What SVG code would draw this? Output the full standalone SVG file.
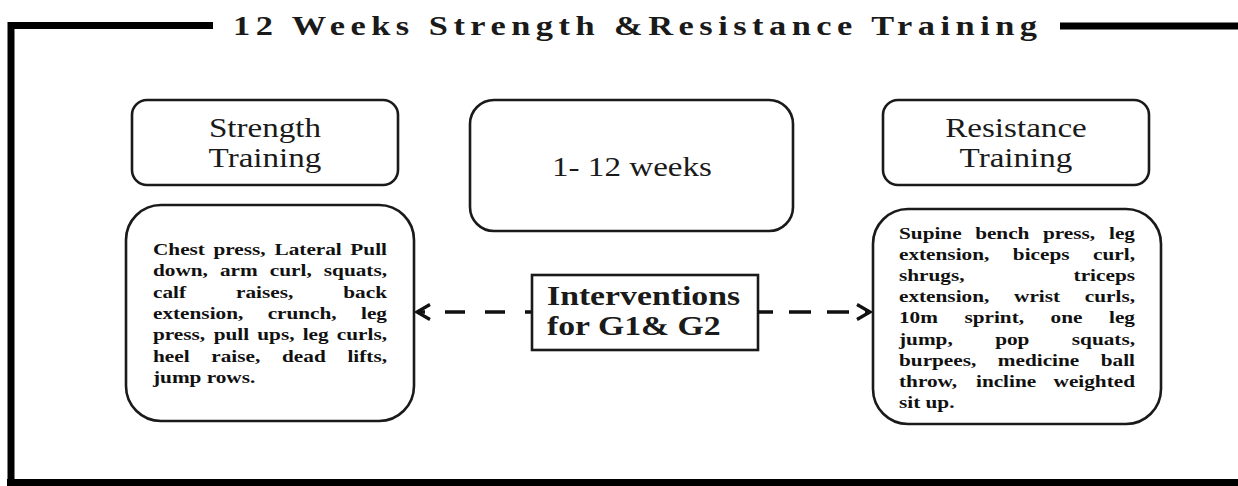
<svg xmlns="http://www.w3.org/2000/svg" width="1238" height="486" viewBox="0 0 1238 486">
<style>
.frame{stroke:#000;stroke-width:7;fill:none;stroke-linecap:butt}
.box{fill:#fff;stroke:#1a1a1a;stroke-width:2.6}
.hdr{font-family:"Liberation Serif","Times New Roman",serif;font-size:26.5px;fill:#1a1a1a;text-anchor:middle}
.body{font-family:"Liberation Serif","Times New Roman",serif;font-size:17px;font-weight:bold;fill:#111}
.iv{font-family:"Liberation Serif","Times New Roman",serif;font-size:27px;font-weight:bold;fill:#1a1a1a}
.title{font-family:"Liberation Serif","Times New Roman",serif;font-size:27.5px;font-weight:bold;fill:#1a1a1a}
.conn{stroke:#111;stroke-width:3.5;fill:none}
</style>
<defs>
<marker id="chev" viewBox="0 0 18 18" refX="16" refY="9" markerWidth="18" markerHeight="18" markerUnits="userSpaceOnUse" orient="auto">
<path d="M3,1.5 L16,9 L3,16.5" fill="none" stroke="#111" stroke-width="3.2"/>
</marker>
</defs>
<rect width="1238" height="486" fill="#fff"/>
<g id="frame">
<path class="frame" d="M213,25.5 H11 V486"/>
<path class="frame" d="M7,482.5 H1238"/>
<path class="frame" d="M1060,26 H1238"/>
<text class="title" transform="scale(1.25,1)" x="186.4" y="35" textLength="643.2" lengthAdjust="spacing">12 Weeks Strength &amp;Resistance Training</text>
</g>
<g id="strength-header">
<rect class="box" x="132" y="100" width="266" height="85" rx="15"/>
<text class="hdr" transform="translate(265,0) scale(1.25,1)" x="0" y="137">Strength</text>
<text class="hdr" transform="translate(265,0) scale(1.25,1)" x="0" y="167">Training</text>
</g>
<g id="weeks">
<rect class="box" x="470" y="100" width="323" height="131" rx="24"/>
<text class="hdr" transform="translate(632,0) scale(1.25,1)" x="0" y="176">1- 12 weeks</text>
</g>
<g id="resistance-header">
<rect class="box" x="883" y="100" width="266" height="85" rx="15"/>
<text class="hdr" transform="translate(1016,0) scale(1.25,1)" x="0" y="137">Resistance</text>
<text class="hdr" transform="translate(1016,0) scale(1.25,1)" x="0" y="167">Training</text>
</g>
<g id="strength-exercises">
<rect class="box" x="126" y="205" width="288" height="216" rx="35"/>
<g transform="translate(153,0) scale(1.25,1)" class="body">
<text y="255"><tspan x="0">Chest</tspan><tspan x="48.38">press,</tspan><tspan x="97.23">Lateral</tspan><tspan x="157.88">Pull</tspan></text>
<text y="276.3"><tspan x="0">down,</tspan><tspan x="53.6">arm</tspan><tspan x="93.48">curl,</tspan><tspan x="136.67">squats,</tspan></text>
<text y="297.7"><tspan x="0">calf</tspan><tspan x="66.44">raises,</tspan><tspan x="152.25">back</tspan></text>
<text y="319"><tspan x="0">extension,</tspan><tspan x="91.72">crunch,</tspan><tspan x="166.44">leg</tspan></text>
<text y="340.3"><tspan x="0">press,</tspan><tspan x="48.56">pull</tspan><tspan x="83.45">ups,</tspan><tspan x="119.76">leg</tspan><tspan x="147.06">curls,</tspan></text>
<text y="361.7"><tspan x="0">heel</tspan><tspan x="46.65">raise,</tspan><tspan x="103.22">dead</tspan><tspan x="155.55">lifts,</tspan></text>
<text y="383" x="0">jump rows.</text>
</g>
</g>
<g id="resistance-exercises">
<rect class="box" x="873" y="209" width="288" height="215" rx="35"/>
<g transform="translate(899,0) scale(1.25,1)" class="body">
<text y="239"><tspan x="0">Supine</tspan><tspan x="60.91">bench</tspan><tspan x="115.19">press,</tspan><tspan x="168.04">leg</tspan></text>
<text y="260.1"><tspan x="0">extension,</tspan><tspan x="91.1">biceps</tspan><tspan x="155.29">curl,</tspan></text>
<text y="281.3"><tspan x="0">shrugs,</tspan><tspan x="139.7">triceps</tspan></text>
<text y="302.4"><tspan x="0">extension,</tspan><tspan x="92.05">wrist</tspan><tspan x="148.67">curls,</tspan></text>
<text y="323.5"><tspan x="0">10m</tspan><tspan x="52.38">sprint,</tspan><tspan x="121.3">one</tspan><tspan x="168.02">leg</tspan></text>
<text y="344.6"><tspan x="0">jump,</tspan><tspan x="76.92">pop</tspan><tspan x="138.26">squats,</tspan></text>
<text y="365.8"><tspan x="0">burpees,</tspan><tspan x="79.05">medicine</tspan><tspan x="161.4">ball</tspan></text>
<text y="386.9"><tspan x="0">throw,</tspan><tspan x="61.58">incline</tspan><tspan x="123.65">weighted</tspan></text>
<text y="408" x="0">sit up.</text>
</g>
</g>
<g id="interventions">
<rect class="box" x="532" y="275" width="226" height="75" rx="0"/>
<text class="iv" transform="translate(547,0) scale(1.25,1)" x="0" y="305">Interventions</text>
<text class="iv" transform="translate(547,0) scale(1.25,1)" x="0" y="335">for G1&amp; G2</text>
</g>
<g id="connectors">
<path class="conn" d="M531,312 H417" stroke-dasharray="20 20" stroke-dashoffset="14" marker-end="url(#chev)"/>
<path class="conn" d="M758,312 H870" stroke-dasharray="22 16" stroke-dashoffset="7" marker-end="url(#chev)"/>
</g>
</svg>
